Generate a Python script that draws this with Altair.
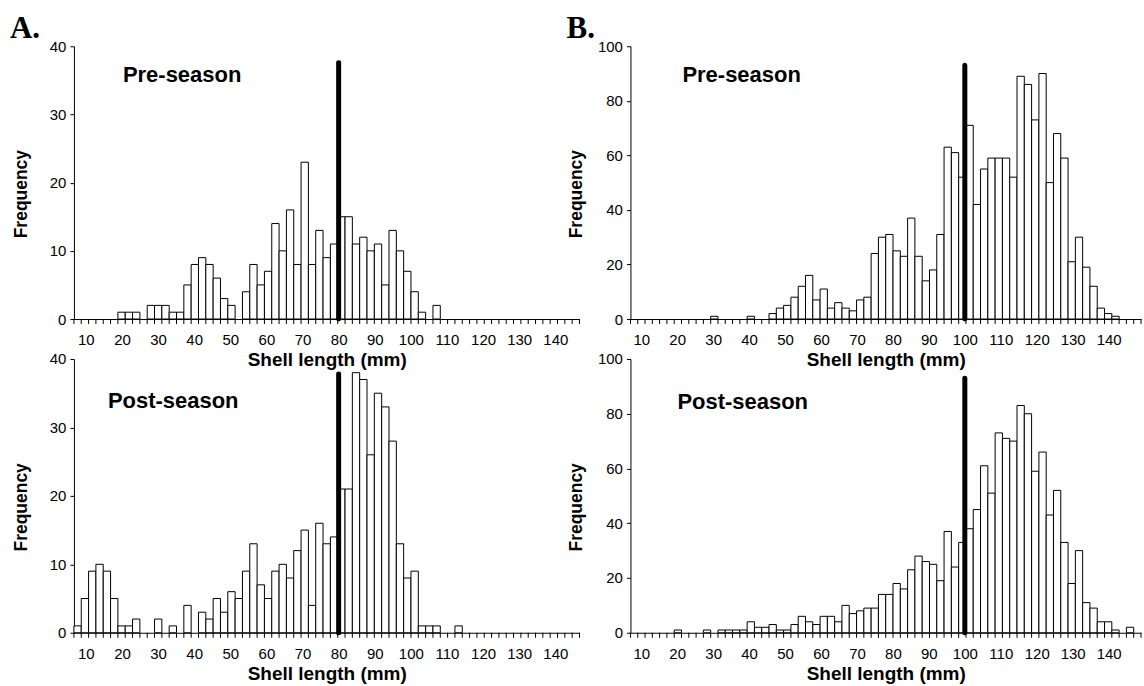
import altair as alt
import pandas as pd

# ---------------- data ----------------
# Bar categories: bin centres in mm, each bar covers centre-1 .. centre+1
bins_a = list(range(8, 145, 2))   # 8 .. 144  (69 columns)
bins_b = list(range(8, 147, 2))   # 8 .. 146  (70 columns)

# Panel A, pre-season
a_pre = [0, 0, 0, 0, 0, 0, 1, 1, 1, 0,
         2, 2, 2, 1, 1, 5, 8, 9, 8, 6,
         3, 2, 0, 4, 8, 5, 7, 14, 10, 16,
         8, 23, 8, 13, 9, 11, 15, 15, 11, 12,
         10, 11, 5, 13, 10, 7, 4, 1, 0, 2,
         0, 0, 0, 0, 0, 0, 0, 0, 0, 0,
         0, 0, 0, 0, 0, 0, 0, 0, 0]
# Panel A, post-season
a_post = [1, 5, 9, 10, 9, 5, 1, 1, 2, 0,
          0, 2, 0, 1, 0, 4, 0, 3, 2, 5,
          3, 6, 5, 9, 13, 7, 5, 9, 10, 8,
          12, 15, 4, 16, 13, 14, 21, 21, 38, 37,
          26, 35, 33, 28, 13, 8, 9, 1, 1, 1,
          0, 0, 1, 0, 0, 0, 0, 0, 0, 0,
          0, 0, 0, 0, 0, 0, 0, 0, 0]
# Panel B, pre-season
b_pre = [0, 0, 0, 0, 0, 0, 0, 0, 0, 0,
         0, 1, 0, 0, 0, 0, 1, 0, 0, 2,
         4, 5, 8, 12, 16, 7, 11, 4, 6, 4,
         3, 7, 8, 24, 30, 31, 25, 23, 37, 23,
         14, 18, 31, 63, 61, 52, 71, 42, 55, 59,
         59, 59, 52, 89, 86, 73, 90, 50, 68, 59,
         21, 30, 19, 12, 4, 2, 1, 0, 0, 0]
# Panel B, post-season
b_post = [0, 0, 0, 0, 0, 0, 1, 0, 0, 0,
          1, 0, 1, 1, 1, 1, 4, 2, 2, 3,
          1, 1, 3, 6, 4, 3, 6, 6, 4, 10,
          7, 8, 9, 9, 14, 14, 18, 16, 23, 28,
          26, 25, 19, 37, 24, 33, 38, 45, 61, 51,
          73, 71, 70, 83, 80, 59, 66, 43, 52, 33,
          18, 30, 11, 9, 4, 4, 1, 0, 2, 0]

x_labels = [10, 20, 30, 40, 50, 60, 70, 80, 90, 100, 110, 120, 130, 140]

# minimum legal size marked by the thick line (mm) and its drawn height
line_x = {"a_pre": 80, "a_post": 80, "b_pre": 100, "b_post": 100}
line_top = {"a_pre": 37.6, "a_post": 37.8, "b_pre": 93, "b_post": 93}

FONT = "Liberation Sans"


def panel(bins, counts, bar_dom, lab_dom, ymax, ystep, lx, ltop, w, h,
          season, sx, sy, letter=None, title_x=-52):
    df = pd.DataFrame({"bin": bins, "count": counts})
    df = df[df["count"] > 0].copy()
    df["lo"] = df["bin"] - 1
    df["hi"] = df["bin"] + 1
    df["zero"] = 0
    xs_bar = alt.Scale(domain=bar_dom, nice=False, zero=False)
    xs_lab = alt.Scale(domain=lab_dom, nice=False, zero=False)
    ys = alt.Scale(domain=[0, ymax], nice=False)
    x_axis = alt.Axis(
        values=x_labels, format="d", orient="bottom",
        ticks=False, tickSize=0,
        labelFlush=False, labelOverlap=False,
        labelPadding=13.5, grid=False,
        title="Shell length (mm)", titlePadding=3, titleFontSize=19,
    )
    y_axis = alt.Axis(
        values=list(range(0, ymax + 1, ystep)),
        tickSize=4, labelPadding=4, grid=False,
        title="Frequency", titleX=title_x, titleY=h / 2 + 11,
        titleBaseline="middle",
    )
    bars = alt.Chart(df).mark_rect(
        fill="white", stroke="black", strokeWidth=1
    ).encode(
        x=alt.X("lo:Q", scale=xs_bar, axis=None),
        x2="hi:Q",
        y=alt.Y("count:Q", scale=ys, axis=y_axis),
        y2="zero:Q",
    )
    # small tick marks at every column edge along the x axis
    edges = pd.DataFrame({"edge": list(range(bar_dom[0], bar_dom[1] + 1, 2))})
    ticks = alt.Chart(edges).mark_rule(color="black", strokeWidth=1).encode(
        x=alt.X("edge:Q", scale=xs_bar, axis=None),
        y=alt.value(h),
        y2=alt.value(h + 5),
    )
    ldf = pd.DataFrame({"x": [lx], "top": [ltop], "zero": [0]})
    rule = alt.Chart(ldf).mark_rule(
        color="black", strokeWidth=5, strokeCap="round"
    ).encode(
        x=alt.X("x:Q", scale=xs_lab, axis=x_axis),
        y=alt.Y("top:Q", scale=ys, axis=y_axis),
        y2="zero:Q",
    )
    tdf = pd.DataFrame({"t": [season]})
    txt = alt.Chart(tdf).mark_text(
        font=FONT, fontSize=22, fontWeight="bold", align="left",
        baseline="middle", color="black"
    ).encode(text="t:N", x=alt.value(sx), y=alt.value(sy))
    layers = [bars, ticks, rule, txt]
    if letter is not None:
        ldf2 = pd.DataFrame({"t": [letter]})
        layers.append(
            alt.Chart(ldf2).mark_text(
                font="Liberation Serif", fontSize=31, fontWeight="bold",
                align="left", baseline="alphabetic", color="black"
            ).encode(text="t:N", x=alt.value(-64), y=alt.value(-8))
        )
    return alt.layer(*layers).resolve_scale(
        x="independent", y="shared"
    ).resolve_axis(y="shared").properties(width=w, height=h)


a1 = panel(bins_a, a_pre, [7, 145], [6.7, 146.7], 40, 10,
           line_x["a_pre"], line_top["a_pre"], 506, 273,
           "Pre-season", 49, 29, letter="A.", title_x=-52)
b1 = panel(bins_b, b_pre, [7, 147], [7, 149], 100, 20,
           line_x["b_pre"], line_top["b_pre"], 511, 273,
           "Pre-season", 52, 29, letter="B.", title_x=-54)
a2 = panel(bins_a, a_post, [7, 145], [6.7, 146.7], 40, 10,
           line_x["a_post"], line_top["a_post"], 506, 274,
           "Post-season", 34, 42, title_x=-52)
b2 = panel(bins_b, b_post, [7, 147], [7, 149], 100, 20,
           line_x["b_post"], line_top["b_post"], 511, 274,
           "Post-season", 47, 43, title_x=-54)

chart = alt.concat(
    a1, b1, a2, b2, columns=2, bounds="flush",
    spacing={"row": 40, "column": 51},
).properties(
    padding={"left": 10, "top": 13, "right": 2, "bottom": 0},
    background="white",
).configure_view(stroke=None).configure_axis(
    domainColor="black", tickColor="black", labelColor="black",
    titleColor="black", labelFont=FONT, titleFont=FONT,
    labelFontSize=15, titleFontSize=17.5, titleFontWeight="bold",
    domainWidth=1, tickWidth=1, labelOverlap=False,
)

chart.save("out.html", embed_options={"renderer": "svg", "actions": False})
